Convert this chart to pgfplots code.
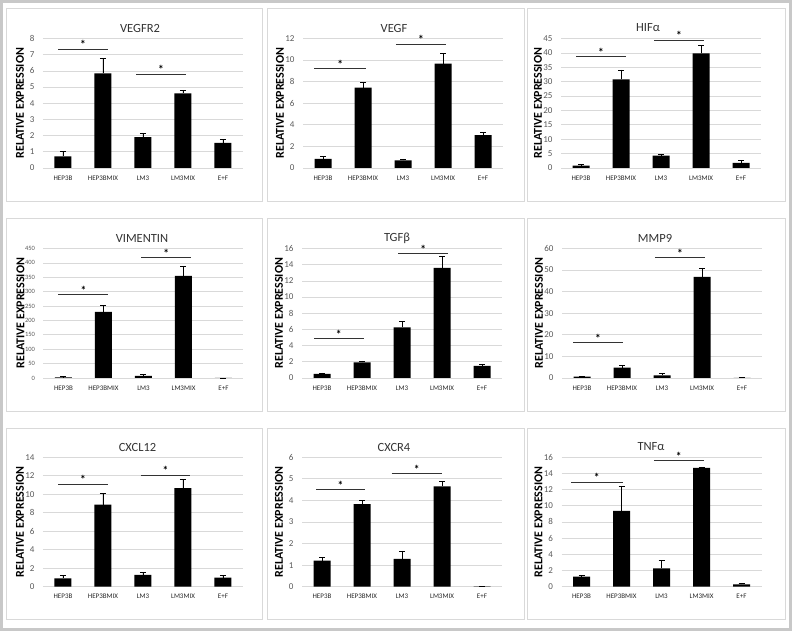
\documentclass[border=0pt]{standalone}
\usepackage{fontspec}
\setmainfont{Carlito}
\usepackage{pgfplots}
\pgfplotsset{compat=1.18}
\definecolor{gridc}{HTML}{D9D9D9}
\definecolor{tickc}{HTML}{595959}
\definecolor{framec}{HTML}{C8C8C8}
\definecolor{sigc}{HTML}{333333}
\pgfplotsset{
 panel/.style={
  scale only axis, width=200pt, height=129.5pt, anchor=south west,
  xmin=-0.5, xmax=4.5, ymin=0, enlargelimits=false, clip=false,
  xtick={0,1,2,3,4}, xticklabels={HEP3B,HEP3BMIX,LM3,LM3MIX,E+F},
  axis line style={draw=none}, ymajorgrids, grid style={gridc, line width=0.7pt},
  major tick length=0pt,
  /pgf/number format/assume math mode=true,
  yticklabel style={font=\fontsize{9}{10}\selectfont, text=tickc, xshift=-5pt},
  xticklabel style={font=\fontsize{7}{8}\selectfont, text=black!85, yshift=-4pt},
  ylabel={RELATIVE EXPRESSION},
  every axis y label/.style={at={(axis description cs:0,0.5)}, xshift=-23pt, rotate=90, anchor=center, font=\bfseries\fontsize{12}{14}\selectfont},
 },
 bars/.style={ybar, bar shift=0pt, bar width=17pt, fill=black, draw=none,
   error bars/y dir=plus, error bars/y explicit,
   error bars/error bar style={black, line width=0.7pt},
   error bars/error mark options={rotate=90, mark size=3pt, black, line width=0.7pt}},
 sig/.style={sigc, line width=1pt, forget plot, no marks, sharp plot},
}
\tikzset{star/.style={anchor=base, yshift=0.5pt, font=\bfseries\fontsize{11.5}{12}\selectfont}}
\begin{document}
\begin{tikzpicture}[x=1pt,y=1pt]
\useasboundingbox (0,0) rectangle (792,631);
\draw[framec, line width=3pt] (1.5,1.5) rectangle (790.5,629.5);
% panel boxes
\foreach \xa/\xb in {6/262,267/524.5,527/785}{
  \draw[gridc, line width=0.75pt] (\xa,430) rectangle (\xb,623);
  \draw[gridc, line width=0.75pt] (\xa,220) rectangle (\xb,413);
  \draw[gridc, line width=0.75pt] (\xa,12) rectangle (\xb,203);
}
% titles
\begin{scope}[every node/.style={font=\fontsize{12.5}{14}\selectfont, text=black!80}]
\node at (140,603) {VEGFR2};
\node at (394,603) {VEGF};
\node at (648,603) {HIFα};
\node at (142,393) {VIMENTIN};
\node at (397,393) {TGFβ};
\node at (655,393) {MMP9};
\node at (137.5,184) {CXCL12};
\node at (394,184) {CXCR4};
\node at (651,184) {TNFα};
\end{scope}

% Panel 1 VEGFR2
\begin{axis}[panel, at={(43pt,463pt)}, ymax=8, ytick={0,1,...,8}]
\addplot[bars] table[x=x,y=y,y error=e] {
x y e
0 0.72 0.31
1 5.85 0.91
2 1.90 0.27
3 4.61 0.18
4 1.55 0.21
};
\addplot[sig] coordinates {(-0.12,7.33) (1.12,7.33)};
\node[star] at (axis cs:0.5,7.33) {*};
\addplot[sig] coordinates {(1.83,5.79) (3.07,5.79)};
\node[star] at (axis cs:2.45,5.79) {*};
\end{axis}

% Panel 2 VEGF
\begin{axis}[panel, at={(303pt,463pt)}, ymax=12, ytick={0,2,...,12}]
\addplot[bars] table[x=x,y=y,y error=e] {
x y e
0 0.84 0.25
1 7.44 0.46
2 0.71 0.13
3 9.67 0.97
4 3.04 0.25
};
\addplot[sig] coordinates {(-0.22,9.2) (1.07,9.2)};
\node[star] at (axis cs:0.43,9.2) {*};
\addplot[sig] coordinates {(1.82,11.47) (3.07,11.47)};
\node[star] at (axis cs:2.45,11.47) {*};
\end{axis}

% Panel 3 HIFa
\begin{axis}[panel, at={(561pt,463pt)}, ymax=45, ytick={0,5,...,45}]
\addplot[bars] table[x=x,y=y,y error=e] {
x y e
0 0.8 0.36
1 30.8 3.27
2 4.3 0.6
3 39.8 2.9
4 1.74 0.82
};
\addplot[sig] coordinates {(-0.12,38.7) (1.12,38.7)};
\node[star] at (axis cs:0.5,38.7) {*};
\addplot[sig] coordinates {(1.83,44.4) (3.07,44.4)};
\node[star] at (axis cs:2.45,44.4) {*};
\end{axis}

% Panel 4 VIMENTIN
\begin{axis}[panel, at={(43.5pt,253pt)}, ymax=450, ytick={0,50,...,450},
  yticklabel style={font=\fontsize{6.5}{7}\selectfont}]
\addplot[bars] table[x=x,y=y,y error=e] {
x y e
0 2 2.6
1 229.7 23.2
2 7 4.6
3 355 32.5
4 0.3 0
};
\addplot[sig] coordinates {(-0.13,290) (1.12,290)};
\node[star] at (axis cs:0.5,290) {*};
\addplot[sig] coordinates {(1.95,417.6) (3.2,417.6)};
\node[star] at (axis cs:2.57,417.6) {*};
\end{axis}

% Panel 5 TGFb
\begin{axis}[panel, at={(302pt,253pt)}, ymax=16, ytick={0,2,...,16}]
\addplot[bars] table[x=x,y=y,y error=e] {
x y e
0 0.5 0.12
1 1.94 0.16
2 6.24 0.70
3 13.6 1.45
4 1.49 0.25
};
\addplot[sig] coordinates {(-0.2,4.84) (1.04,4.84)};
\node[star] at (axis cs:0.42,4.84) {*};
\addplot[sig] coordinates {(1.91,15.38) (3.15,15.38)};
\node[star] at (axis cs:2.53,15.38) {*};
\end{axis}

% Panel 6 MMP9
\begin{axis}[panel, at={(562pt,253pt)}, ymax=60, ytick={0,10,...,60}]
\addplot[bars] table[x=x,y=y,y error=e] {
x y e
0 0.6 0
1 4.8 0.9
2 1.24 0.76
3 46.8 4.2
4 0.1 0
};
\addplot[sig] coordinates {(-0.22,16.4) (1.03,16.4)};
\node[star] at (axis cs:0.4,16.4) {*};
\addplot[sig] coordinates {(1.82,55.6) (3.07,55.6)};
\node[star] at (axis cs:2.45,55.6) {*};
\end{axis}

% Panel 7 CXCL12
\begin{axis}[panel, at={(43pt,44.3pt)}, ymax=14, ytick={0,2,...,14}]
\addplot[bars] table[x=x,y=y,y error=e] {
x y e
0 0.9 0.29
1 8.86 1.2
2 1.27 0.29
3 10.67 0.98
4 0.98 0.25
};
\addplot[sig] coordinates {(-0.12,11.1) (1.12,11.1)};
\node[star] at (axis cs:0.5,11.1) {*};
\addplot[sig] coordinates {(1.95,12.05) (3.18,12.05)};
\node[star] at (axis cs:2.56,12.05) {*};
\end{axis}

% Panel 8 CXCR4
\begin{axis}[panel, at={(302pt,44.3pt)}, ymax=6, ytick={0,1,...,6}]
\addplot[bars] table[x=x,y=y,y error=e] {
x y e
0 1.21 0.14
1 3.83 0.15
2 1.29 0.37
3 4.65 0.23
4 0.02 0
};
\addplot[sig] coordinates {(-0.15,4.5) (1.08,4.5)};
\node[star] at (axis cs:0.46,4.5) {*};
\addplot[sig] coordinates {(1.74,5.24) (3.0,5.24)};
\node[star] at (axis cs:2.37,5.24) {*};
\end{axis}

% Panel 9 TNFa
\begin{axis}[panel, at={(561.5pt,44.3pt)}, ymax=16, ytick={0,2,...,16}]
\addplot[bars] table[x=x,y=y,y error=e] {
x y e
0 1.24 0.16
1 9.38 2.98
2 2.27 0.95
3 14.68 0.12
4 0.29 0.12
};
\addplot[sig] coordinates {(-0.26,12.9) (1.03,12.9)};
\node[star] at (axis cs:0.38,12.9) {*};
\addplot[sig] coordinates {(1.81,15.58) (3.06,15.58)};
\node[star] at (axis cs:2.43,15.58) {*};
\end{axis}
\end{tikzpicture}
\end{document}
